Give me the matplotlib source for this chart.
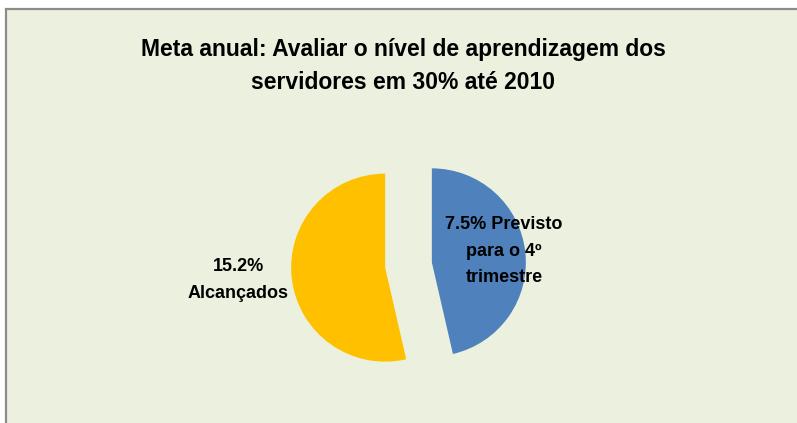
import matplotlib
matplotlib.use("Agg")
import matplotlib.pyplot as plt
from matplotlib.patches import Rectangle

# ---- data ----
slice_names = ["Previsto para o 4º trimestre", "Alcançados"]
slice_values = [46.4, 53.6]          # share of the circle
slice_labels = ["7.5% Previsto\npara o 4º\ntrimestre", "15.2%\nAlcançados"]
slice_colors = ["#4F81BD", "#FFC000"]
title = "Meta anual: Avaliar o nível de aprendizagem dos\nservidores em 30% até 2010"

FONT = ["Liberation Sans", "DejaVu Sans"]
BG = "#EBF1DE"

W, H = 797, 423
fig = plt.figure(figsize=(W / 100, H / 100), dpi=100)
fig.patch.set_facecolor("white")

# chart area (cut off at right and bottom like the screenshot)
fig.patches.append(Rectangle((6 / W, -0.05), 1.1, 1 - 9 / H + 0.05,
                             transform=fig.transFigure, facecolor=BG,
                             edgecolor="#8C8C8C", linewidth=1.6, zorder=-5))

fig.text(403 / W, 1 - 66 / H, title, ha="center", va="center",
         fontsize=16.5, fontweight="bold", family=FONT, linespacing=1.55)

# pie axes: centre (408.5, 265) px, radius ~94 px
cx, cy, R = 408.5, 265, 94.0
S = 440
ax = fig.add_axes([(cx - S / 2) / W, 1 - (cy + S / 2) / H, S / W, S / H])
ax.patch.set_visible(False)
lim = S / 2 / R

ax.pie(slice_values, colors=slice_colors, startangle=90, counterclock=False,
       explode=[0.25, 0.25], radius=1.0, wedgeprops=dict(linewidth=0))
ax.set_xlim(-lim, lim)
ax.set_ylim(-lim, lim)
ax.set_aspect("equal")
ax.axis("off")

# data labels
label_pos = [((504 - cx) / R, (cy - 251) / R), ((238 - cx) / R, (cy - 280) / R)]
for txt, (x, y) in zip(slice_labels, label_pos):
    ax.text(x, y, txt, ha="center", va="center", fontsize=13,
            fontweight="bold", family=FONT, linespacing=1.7, clip_on=False)

fig.savefig("out.png", dpi=100, facecolor="white")
